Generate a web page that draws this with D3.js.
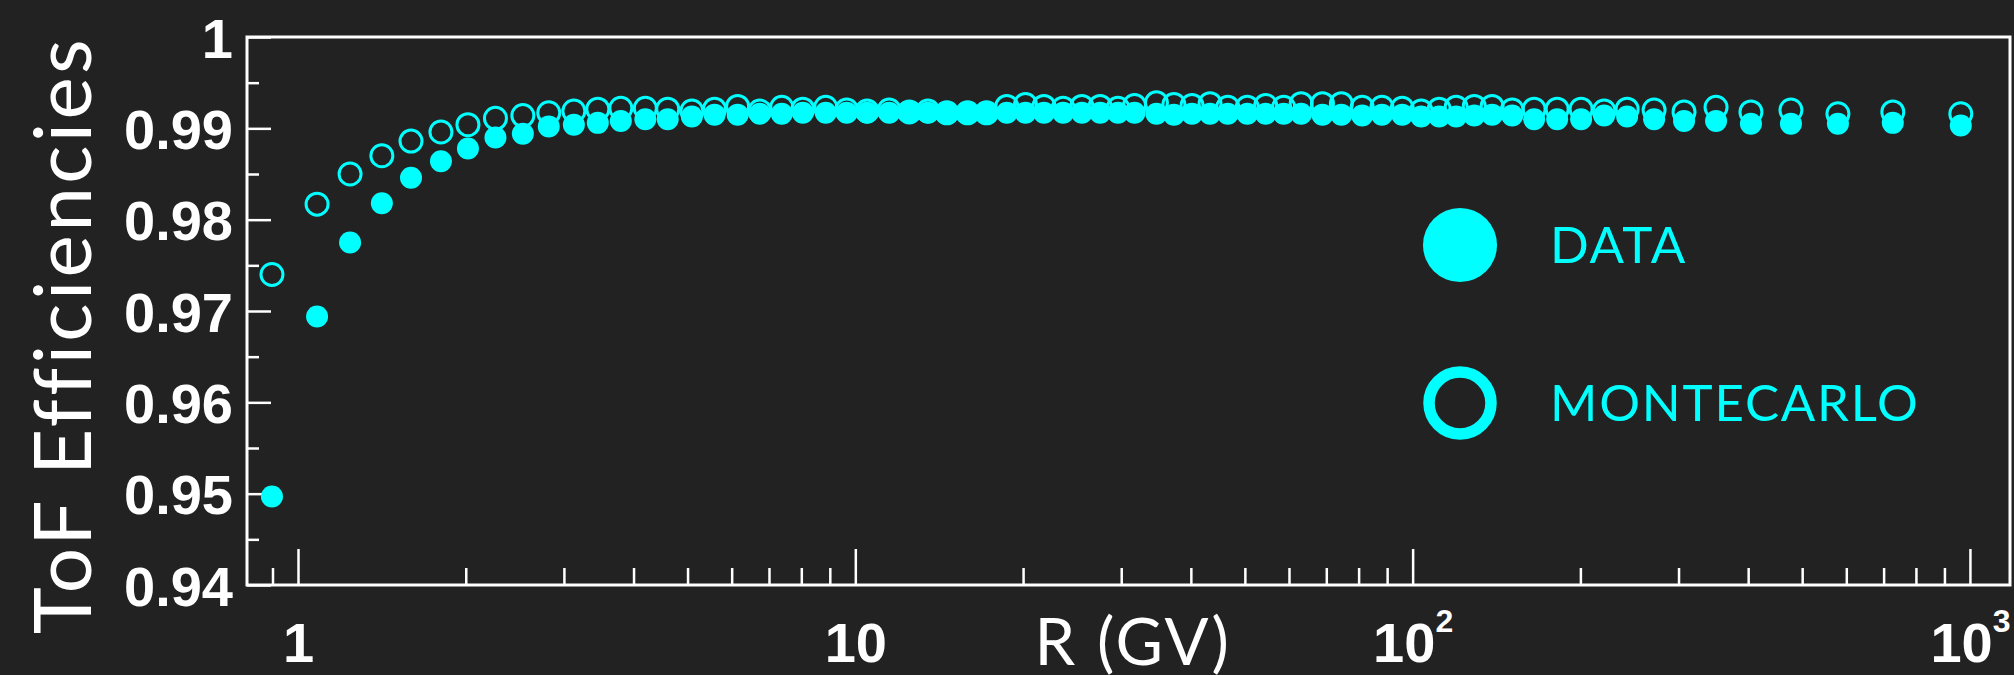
<!DOCTYPE html>
<html>
<head>
<meta charset="utf-8">
<script src="https://cdn.jsdelivr.net/npm/d3@7"></script>
<style>
  html, body { margin: 0; padding: 0; background: #222222; }
  svg { display: block; }
  .tick line { stroke: #fff; stroke-width: 2.5; }
</style>
</head>
<body>
<div id="chart"></div>
<script>
// Rigidity bins (GV)
var rigidity = [0.898, 1.082, 1.240, 1.414, 1.595, 1.805, 2.018, 2.261, 2.532, 2.818,
    3.126, 3.451, 3.795, 4.200, 4.607, 5.09, 5.59, 6.15, 6.74, 7.38,
    8.05, 8.85, 9.65, 10.5, 11.5, 12.5, 13.5, 14.6, 15.9, 17.2,
    18.7, 20.2, 21.8, 23.6, 25.5, 27.5, 29.6, 31.7, 34.7, 37.3,
    40.2, 43.3, 46.6, 50.5, 54.5, 58.7, 63.1, 68.9, 74.5, 81.2,
    88.1, 95.8, 103.6, 111.6, 119.7, 129.0, 138.9, 150.9, 165.2, 181.7,
    200.6, 220.6, 242.6, 271.2, 306.9, 350.3, 404.6, 477.3, 579.6, 727.1,
    962.9];

// ToF efficiency, data (filled markers)
var dataEff = [0.9497, 0.9694, 0.9775, 0.9818, 0.9846, 0.9864, 0.9878, 0.9890, 0.9894, 0.9902,
    0.9904, 0.9906, 0.9908, 0.9910, 0.9910, 0.9913, 0.9915, 0.9915, 0.9916, 0.9916,
    0.9917, 0.9917, 0.9917, 0.9917, 0.9917, 0.9917, 0.9917, 0.9917, 0.9917, 0.9917,
    0.9917, 0.9917, 0.9917, 0.9917, 0.9917, 0.9917, 0.9917, 0.9917, 0.9916, 0.9915,
    0.9916, 0.9916, 0.9916, 0.9916, 0.9916, 0.9916, 0.9916, 0.9915, 0.9915, 0.9914,
    0.9915, 0.9915, 0.9913, 0.9913, 0.9913, 0.9914, 0.9915, 0.9914, 0.9910, 0.9910,
    0.9910, 0.9914, 0.9913, 0.9910, 0.9908, 0.9908, 0.9905, 0.9905, 0.9905, 0.9906,
    0.9903];

// ToF efficiency, Monte Carlo (open markers)
var mcEff = [0.9740, 0.9817, 0.9850, 0.9870, 0.9886, 0.9896, 0.9904, 0.9911, 0.9914, 0.9917,
    0.9919, 0.9921, 0.9922, 0.9922, 0.9921, 0.9919, 0.9921, 0.9924, 0.9919, 0.9923,
    0.9921, 0.9923, 0.9920, 0.9919, 0.9920, 0.9918, 0.9919, 0.9917, 0.9917, 0.9917,
    0.9924, 0.9926, 0.9924, 0.9922, 0.9924, 0.9924, 0.9922, 0.9925, 0.9928, 0.9926,
    0.9925, 0.9927, 0.9923, 0.9923, 0.9925, 0.9923, 0.9927, 0.9927, 0.9927, 0.9923,
    0.9923, 0.9922, 0.9919, 0.9921, 0.9923, 0.9924, 0.9924, 0.9920, 0.9921, 0.9921,
    0.9921, 0.9919, 0.9921, 0.9920, 0.9918, 0.9923, 0.9918, 0.9920, 0.9916, 0.9918,
    0.9916];

// Axis ticks and labels
var yMajor = [0.94, 0.95, 0.96, 0.97, 0.98, 0.99, 1];
var yMinor = [0.945, 0.955, 0.965, 0.975, 0.985, 0.995];
var xMajor = [1, 10, 100, 1000];
var xMajorLabels = [["1", ""], ["10", ""], ["10", "2"], ["10", "3"]];
var xMinor = [0.9, 2, 3, 4, 5, 6, 7, 8, 9, 20, 30, 40, 50, 60, 70, 80, 90,
    200, 300, 400, 500, 600, 700, 800, 900];
var legendNames = ["DATA", "MONTECARLO"];

var width = 2014, height = 675;
var plotLeft = 247, plotRight = 2010, plotTop = 37, plotBottom = 585;
var cyan = "#00ffff";
var boldFont = "'Liberation Sans', Arial, Helvetica, sans-serif";
var lightFont = "Lato, 'Open Sans', sans-serif";

var svg = d3.select("#chart").append("svg")
    .attr("width", width)
    .attr("height", height);

svg.append("rect")
    .attr("width", width)
    .attr("height", height)
    .style("fill", "#222222");

var x = d3.scaleLog().domain([0.81, 1180]).range([plotLeft, plotRight]);
var y = d3.scaleLinear().domain([0.94, 1]).range([plotBottom, plotTop]);

// minor x ticks
svg.append("g")
    .attr("transform", "translate(0," + plotBottom + ")")
    .call(d3.axisBottom(x).tickValues(xMinor).tickSize(-17).tickFormat(""))
    .call(g => g.select(".domain").remove());

// major x ticks with labels
var xAxis = svg.append("g")
    .attr("transform", "translate(0," + plotBottom + ")")
    .call(d3.axisBottom(x).tickValues(xMajor).tickSize(-36).tickFormat(""))
    .call(g => g.select(".domain").remove());

xAxis.selectAll(".tick text").each(function (d, i) {
    var t = d3.select(this)
        .attr("y", 77)
        .attr("dy", null)
        .style("font-family", boldFont)
        .style("font-weight", "bold")
        .style("font-size", "56px")
        .style("fill", "#fff");
    var lab = xMajorLabels[i];
    t.append("tspan").text(lab[0]);
    if (lab[1]) {
        t.append("tspan")
            .attr("dy", -30)
            .style("font-size", "32px")
            .text(lab[1]);
    }
});

// minor y ticks
svg.append("g")
    .attr("transform", "translate(" + plotLeft + ",0)")
    .call(d3.axisLeft(y).tickValues(yMinor).tickSize(-12).tickFormat(""))
    .call(g => g.select(".domain").remove());

// major y ticks with labels
svg.append("g")
    .attr("transform", "translate(" + plotLeft + ",0)")
    .call(d3.axisLeft(y).tickValues(yMajor).tickSize(-24).tickPadding(14)
        .tickFormat(d => d === 1 ? "1" : d3.format(".2f")(d)))
    .call(g => g.select(".domain").remove())
    .selectAll(".tick text")
    .attr("dy", "0.36em")
    .style("font-family", boldFont)
    .style("font-weight", "bold")
    .style("font-size", "56px")
    .style("fill", "#fff");

// frame
svg.append("rect")
    .attr("x", plotLeft)
    .attr("y", plotTop)
    .attr("width", plotRight - plotLeft)
    .attr("height", plotBottom - plotTop)
    .style("fill", "none")
    .style("stroke", "#fff")
    .style("stroke-width", 3);

// Monte Carlo markers first, data drawn on top
svg.append("g").selectAll("circle")
    .data(rigidity)
    .enter()
    .append("circle")
    .attr("cx", d => x(d))
    .attr("cy", (d, i) => y(mcEff[i]))
    .attr("r", 11)
    .style("fill", "none")
    .style("stroke", cyan)
    .style("stroke-width", 3);

svg.append("g").selectAll("circle")
    .data(rigidity)
    .enter()
    .append("circle")
    .attr("cx", d => x(d))
    .attr("cy", (d, i) => y(dataEff[i]))
    .attr("r", 11)
    .style("fill", cyan);

// legend
var legend = svg.append("g");
legend.append("circle")
    .attr("cx", 1460).attr("cy", 245).attr("r", 37)
    .style("fill", cyan);
legend.append("circle")
    .attr("cx", 1460).attr("cy", 403).attr("r", 31)
    .style("fill", "none")
    .style("stroke", cyan)
    .style("stroke-width", 11.5);
legend.selectAll("text")
    .data(legendNames)
    .enter()
    .append("text")
    .attr("x", 1550)
    .attr("y", (d, i) => i === 0 ? 263 : 421)
    .style("font-family", lightFont)
    .style("font-size", "51px")
    .style("letter-spacing", "1.8px")
    .style("fill", cyan)
    .text(d => d);

// axis titles
svg.append("text")
    .attr("x", 1133)
    .attr("y", 665)
    .attr("text-anchor", "middle")
    .style("font-family", lightFont)
    .style("font-size", "65px")
    .style("letter-spacing", "2.5px")
    .style("fill", "#fff")
    .text("R (GV)");

svg.append("text")
    .attr("transform", "translate(91,335) rotate(-90)")
    .attr("text-anchor", "middle")
    .style("font-family", lightFont)
    .style("font-size", "80px")
    .style("letter-spacing", "3.4px")
    .style("fill", "#fff")
    .text("ToF Efficiencies");
</script>
</body>
</html>
